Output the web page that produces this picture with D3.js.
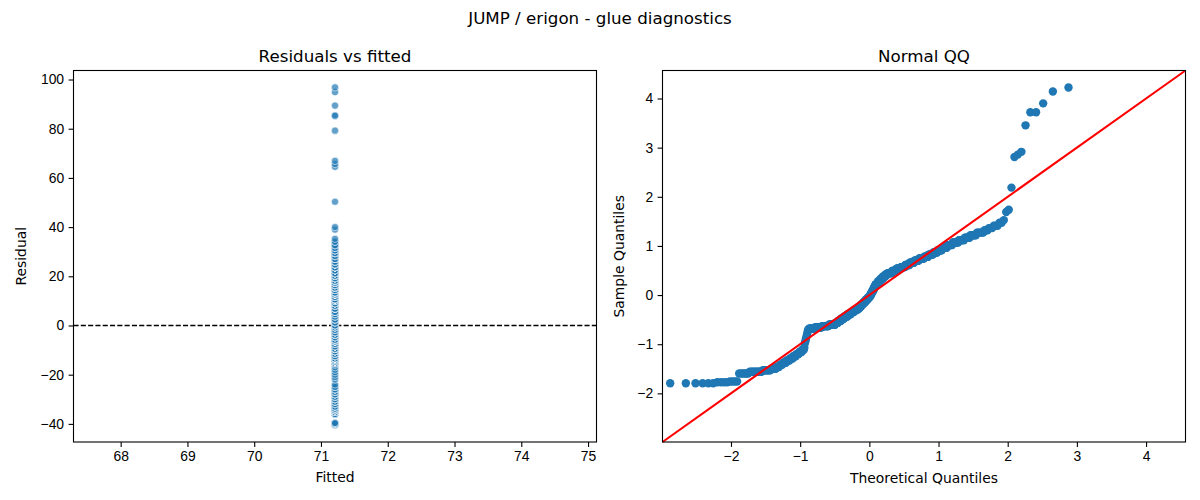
<!DOCTYPE html>
<html>
<head>
<meta charset="utf-8">
<script src="https://cdn.jsdelivr.net/npm/d3@7"></script>
<style>
  body { margin: 0; background: #fff; }
  svg { font-family: "DejaVu Sans", sans-serif; }
  .tick text { font-size: 13.9px; fill: #000; }
  .tick line, .domain { stroke: #000; stroke-width: 1.1px; }
  .ttl { font-size: 16.7px; text-anchor: middle; }
  .lbl { font-size: 13.9px; text-anchor: middle; }
</style>
</head>
<body>
<svg id="fig" width="1200" height="500"></svg>
<script>
// fitted value (constant model) and residual frequency table
var fittedValue = 71.21;
var residLevels = [-40.5, -40.1, -39.7,
	-36.0, -35.2, -34.5, -33.8,
	-33, -32, -31, -30, -29, -28, -27, -26, -25,
	-24, -22, -21, -20, -19, -18, -17, -16, -15.5,
	-15.2, -14.6, -14.0, -13.4,
	-12.5, -11.5, -10.5, -9.5, -8.5, -7.5, -6.5,
	-5.8, -4.8, -3.8, -2.8, -1.8, -0.8,
	0, 1.2, 2.4, 3.6, 4.6,
	5.5, 6.8, 8.0, 9.0, 10.0,
	10.6, 11.6, 12.6,
	13.4, 14.4, 15.4, 16.4, 17.4,
	18.2, 19.2, 20.2,
	21.2, 22.4, 23.6, 24.8, 25.9,
	27.0, 28.2, 29.4,
	30.5, 31.5, 32.6, 34.0,
	35.2, 39.0, 40.0, 50.3, 64.5, 65.6, 66.9, 79.2, 85.3, 89.4, 94.9, 96.8];
var residCounts = [6, 4, 4,
	6, 10, 8, 6,
	4, 4, 5, 5, 5, 5, 5, 5, 4,
	1, 1, 1, 1, 1, 1, 1, 1, 1,
	12, 16, 16, 16,
	8, 8, 8, 9, 9, 9, 9,
	6, 6, 6, 6, 6, 5,
	4, 4, 4, 3, 3,
	7, 7, 7, 7, 6,
	12, 12, 12,
	11, 11, 11, 11, 11,
	9, 9, 8,
	8, 8, 8, 8, 7,
	6, 6, 6,
	3, 3, 3, 2,
	1, 1, 1, 1, 1, 1, 1, 1, 2, 1, 1, 1];

var leftTicksX = [68, 69, 70, 71, 72, 73, 74, 75];
var leftTicksY = [-40, -20, 0, 20, 40, 60, 80, 100];
var qqTicks = [-2, -1, 0, 1, 2, 3, 4];
var qqDomain = [-2.99, 4.57];

var blue = '#1f77b4';

// expand frequency table into residual list
var resid = [];
residLevels.forEach(function(v, i){
	for(var k=0; k<residCounts[i]; k++) resid.push(v);
});

// inverse normal cdf (Acklam)
function normInv(p){
	var a = [-3.969683028665376e+01, 2.209460984245205e+02, -2.759285104469687e+02, 1.383577518672690e+02, -3.066479806614716e+01, 2.506628277459239e+00];
	var b = [-5.447609879822406e+01, 1.615858368580409e+02, -1.556989798598866e+02, 6.680131188771972e+01, -1.328068155288572e+01];
	var c = [-7.784894002430293e-03, -3.223964580411365e-01, -2.400758277161838e+00, -2.549732539343734e+00, 4.374664141464968e+00, 2.938163982698783e+00];
	var d = [7.784695709041462e-03, 3.224671290700398e-01, 2.445134176683619e+00, 3.754408661907416e+00];
	var q, r;
	if(p < 0.02425){
		q = Math.sqrt(-2*Math.log(p));
		return (((((c[0]*q+c[1])*q+c[2])*q+c[3])*q+c[4])*q+c[5]) / ((((d[0]*q+d[1])*q+d[2])*q+d[3])*q+1);
	}
	if(p > 1-0.02425){
		q = Math.sqrt(-2*Math.log(1-p));
		return -(((((c[0]*q+c[1])*q+c[2])*q+c[3])*q+c[4])*q+c[5]) / ((((d[0]*q+d[1])*q+d[2])*q+d[3])*q+1);
	}
	q = p - 0.5; r = q*q;
	return (((((a[0]*r+a[1])*r+a[2])*r+a[3])*r+a[4])*r+a[5])*q / (((((b[0]*r+b[1])*r+b[2])*r+b[3])*r+b[4])*r+1);
}

var n = resid.length;
var mu = d3.mean(resid);
var sd = Math.sqrt(d3.mean(resid, function(v){ return (v-mu)*(v-mu); }));
var sorted = resid.slice().sort(d3.ascending);
var qq = sorted.map(function(v, i){
	return {t: normInv((i+1)/(n+1)), s: (v-mu)/sd};
});

var svg = d3.select('#fig');

svg.append('text').attr('class', 'ttl').attr('x', 600).attr('y', 24)
	.text('JUMP / erigon - glue diagnostics');

// ---------- Left: residuals vs fitted ----------
var L = {x0: 73.5, x1: 596.5, y0: 70.5, y1: 442};
var xs = fittedValue*0.05;
var xL = d3.scaleLinear().domain([fittedValue - xs*1.1, fittedValue + xs*1.1]).range([L.x0, L.x1]);
var ext = d3.extent(resid), pad = (ext[1]-ext[0])*0.05;
var yL = d3.scaleLinear().domain([ext[0]-pad, ext[1]+pad]).range([L.y1, L.y0]);

var gL = svg.append('g');
gL.append('line')
	.attr('x1', L.x0).attr('x2', L.x1)
	.attr('y1', yL(0)).attr('y2', yL(0))
	.attr('stroke', '#000').attr('stroke-width', 1.4)
	.attr('stroke-dasharray', '5.1,2.2');

gL.selectAll('circle').data(resid).enter().append('circle')
	.attr('cx', xL(fittedValue))
	.attr('cy', function(d){ return yL(d); })
	.attr('r', 3.6)
	.attr('fill', blue).attr('fill-opacity', 0.7)
	.attr('stroke', '#fff').attr('stroke-width', 0.8).attr('stroke-opacity', 0.7);

gL.append('g').attr('transform', 'translate(0,' + L.y1 + ')')
	.call(d3.axisBottom(xL).tickValues(leftTicksX).tickSize(4.9).tickPadding(4.5).tickSizeOuter(0));
gL.append('g').attr('transform', 'translate(' + L.x0 + ',0)')
	.call(d3.axisLeft(yL).tickValues(leftTicksY).tickSize(4.9).tickPadding(4.5).tickSizeOuter(0)
		.tickFormat(function(d){ return d < 0 ? '\u2212' + Math.abs(d) : d; }));
gL.append('rect').attr('x', L.x0).attr('y', L.y0).attr('width', L.x1-L.x0).attr('height', L.y1-L.y0)
	.attr('fill', 'none').attr('stroke', '#000').attr('stroke-width', 1.1);

gL.append('text').attr('class', 'ttl').attr('x', (L.x0+L.x1)/2).attr('y', 62).text('Residuals vs fitted');
gL.append('text').attr('class', 'lbl').attr('x', (L.x0+L.x1)/2).attr('y', 482).text('Fitted');
gL.append('text').attr('class', 'lbl').attr('transform', 'translate(26,' + ((L.y0+L.y1)/2) + ') rotate(-90)').text('Residual');

// ---------- Right: normal QQ ----------
var R = {x0: 662.5, x1: 1185.5, y0: 70.5, y1: 442};
var xR = d3.scaleLinear().domain(qqDomain).range([R.x0, R.x1]);
var yR = d3.scaleLinear().domain(qqDomain).range([R.y1, R.y0]);

var gR = svg.append('g');
gR.selectAll('circle').data(qq).enter().append('circle')
	.attr('cx', function(d){ return xR(d.t); })
	.attr('cy', function(d){ return yR(d.s); })
	.attr('r', 4.2)
	.attr('fill', blue);

gR.append('line')
	.attr('x1', xR(qqDomain[0])).attr('y1', yR(qqDomain[0]))
	.attr('x2', xR(qqDomain[1])).attr('y2', yR(qqDomain[1]))
	.attr('stroke', '#ff0000').attr('stroke-width', 2.1);

var fmt = function(d){ return d < 0 ? '\u2212' + Math.abs(d) : d; };
gR.append('g').attr('transform', 'translate(0,' + R.y1 + ')')
	.call(d3.axisBottom(xR).tickValues(qqTicks).tickSize(4.9).tickPadding(4.5).tickSizeOuter(0).tickFormat(fmt));
gR.append('g').attr('transform', 'translate(' + R.x0 + ',0)')
	.call(d3.axisLeft(yR).tickValues(qqTicks).tickSize(4.9).tickPadding(4.5).tickSizeOuter(0).tickFormat(fmt));
gR.append('rect').attr('x', R.x0).attr('y', R.y0).attr('width', R.x1-R.x0).attr('height', R.y1-R.y0)
	.attr('fill', 'none').attr('stroke', '#000').attr('stroke-width', 1.1);

gR.append('text').attr('class', 'ttl').attr('x', (R.x0+R.x1)/2).attr('y', 62).text('Normal QQ');
gR.append('text').attr('class', 'lbl').attr('x', (R.x0+R.x1)/2).attr('y', 483).text('Theoretical Quantiles');
gR.append('text').attr('class', 'lbl').attr('transform', 'translate(624,' + ((R.y0+R.y1)/2) + ') rotate(-90)').text('Sample Quantiles');

svg.selectAll('.domain').remove();
</script>
</body>
</html>
